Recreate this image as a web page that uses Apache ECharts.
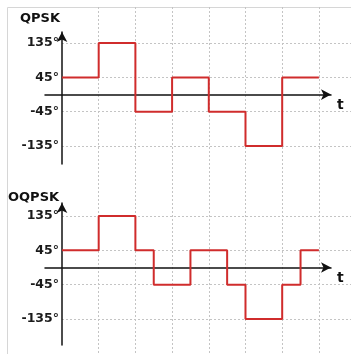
<!DOCTYPE html>
<html><head><meta charset="utf-8">
<script src="https://cdn.jsdelivr.net/npm/echarts@6/dist/echarts.min.js"></script>
<style>html,body{margin:0;padding:0;background:#fff}#c{width:351px;height:354px}</style>
</head><body><div id="c"></div>
<script>
// Data
const qpskT = [0, 1, 2, 3, 4, 5, 6, 7];
const qpskPhase = [45, 135, -45, 45, -45, -135, 45, 45];
const oqpskT = [0, 1, 2, 2.5, 3.5, 4.5, 5, 6, 6.5, 7];
const oqpskPhase = [45, 135, 45, -45, 45, -45, -135, -45, 45, 45];
const phaseTicks = [-135, -45, 45, 135];
const titles = ['QPSK', 'OQPSK'];

const font = 'DejaVu Sans';
const gridColor = '#c4c4c4';
const red = '#d02c2c';

function pts(t, v) { return t.map((x, i) => [x, v[i]]); }

const chart = echarts.init(document.getElementById('c'));

const panels = [
  { bgTop: 43, mainTop: 32, mainH: 132, yMin: -182, yMax: 164, data: pts(qpskT, qpskPhase), title: titles[0], titleLeft: 20, titleTop: 12 },
  { bgTop: 216, mainTop: 203, mainH: 142, yMin: -203, yMax: 169, data: pts(oqpskT, oqpskPhase), title: titles[1], titleLeft: 8, titleTop: 191 }
];

const grid = [], xAxis = [], yAxis = [], series = [], title = [];

grid.push({ left: 62, right: 0, top: 7, bottom: 0 });
xAxis.push({ gridIndex: 0, type: 'value', min: 0, max: 7.87, interval: 1,
  axisLine: { show: false }, axisTick: { show: false }, axisLabel: { show: false },
  splitLine: { show: true, showMinLine: false, lineStyle: { color: gridColor, type: [2, 2], width: 1 } } });
yAxis.push({ gridIndex: 0, type: 'value', show: false, splitLine: { show: false } });

panels.forEach((p) => {
  const gb = grid.length;
  grid.push({ left: 62, right: 0, top: p.bgTop, height: 103 });
  xAxis.push({ gridIndex: gb, type: 'value', show: false, min: 0, max: 1, splitLine: { show: false } });
  yAxis.push({ gridIndex: gb, type: 'value', min: phaseTicks[0], max: phaseTicks[phaseTicks.length - 1], interval: 90,
    axisLine: { show: false }, axisTick: { show: false },
    axisLabel: { margin: 3, formatter: v => v + '°', fontFamily: font, fontWeight: 'bold', fontSize: 12.5, color: '#1a1a1a' },
    splitLine: { show: true, lineStyle: { color: gridColor, type: [2, 2], width: 1 } } });

  const gm = grid.length;
  grid.push({ left: 45, right: 20, top: p.mainTop, height: p.mainH });
  xAxis.push({ gridIndex: gm, type: 'value', min: -0.463, max: 7.33,
    name: 't', nameLocation: 'end', nameGap: 6,
    nameTextStyle: { fontFamily: font, fontWeight: 'bold', fontSize: 14, color: '#111', verticalAlign: 'top', align: 'left', padding: [4, 0, 0, 0] },
    axisLine: { onZero: true, symbol: ['none', 'arrow'], symbolSize: [8, 10], lineStyle: { color: '#111', width: 1.5 } },
    axisTick: { show: false }, axisLabel: { show: false }, splitLine: { show: false } });
  yAxis.push({ gridIndex: gm, type: 'value', min: p.yMin, max: p.yMax,
    axisLine: { onZero: true, symbol: ['none', 'arrow'], symbolSize: [8, 10], lineStyle: { color: '#111', width: 1.5 } },
    axisTick: { show: false }, axisLabel: { show: false }, splitLine: { show: false } });

  series.push({ type: 'line', xAxisIndex: gm, yAxisIndex: gm, step: 'end', data: p.data,
    showSymbol: false, symbol: 'none', lineStyle: { color: red, width: 2 }, z: 1, animation: false });

  title.push({ text: p.title, left: p.titleLeft, top: p.titleTop, padding: 0,
    textStyle: { fontFamily: font, fontWeight: 'bold', fontSize: 13, color: '#111' } });
});

chart.setOption({
  animation: false,
  backgroundColor: '#fff',
  title, grid, xAxis, yAxis, series,
  graphic: [{ type: 'rect', shape: { x: 7.5, y: 7.5, width: 400, height: 400 }, style: { fill: 'none', stroke: '#d6d6d6', lineWidth: 1 }, silent: true, z: -1 }]
});
</script></body></html>
